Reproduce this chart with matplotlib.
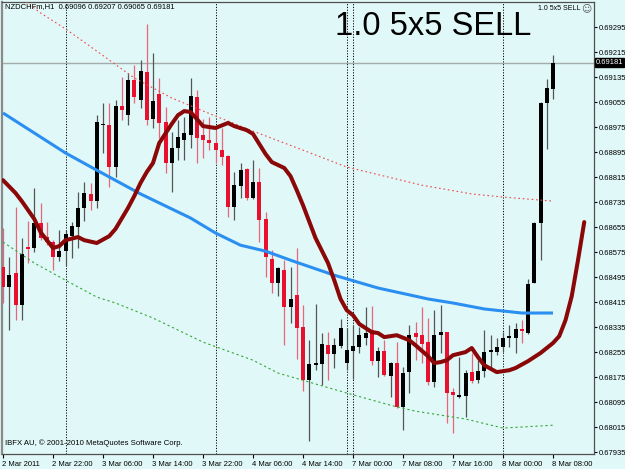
import numpy as np
import matplotlib.pyplot as plt
from matplotlib.transforms import offset_copy

plt.rcParams['font.family'] = ['Liberation Sans', 'DejaVu Sans']

symbol = 'NZDCHFm,H1'
signal_text = '1.0 5x5 SELL'
copyright_text = 'IBFX AU, \u00a9 2001-2010 MetaQuotes Software Corp.'

# hourly candles, 2 Mar 14:00 .. 8 Mar 08:00
opens = [0.68527, 0.68463, 0.68507, 0.68405, 0.68591, 0.68587, 0.68667, 0.68623, 0.68607, 0.68559,
         0.68578, 0.68626, 0.68655, 0.68715, 0.68760, 0.68738, 0.68981, 0.68981, 0.68847, 0.69042,
         0.69013, 0.69125, 0.69061, 0.69151, 0.69000, 0.69080, 0.68991, 0.68859, 0.68907, 0.68933,
         0.68949, 0.69071, 0.68949, 0.68933, 0.68923, 0.68901, 0.68882, 0.68719, 0.68786, 0.68840,
         0.68747, 0.68799, 0.68680, 0.68552, 0.68475, 0.68517, 0.68399, 0.68437, 0.68335, 0.68165,
         0.68213, 0.68216, 0.68277, 0.68248, 0.68274, 0.68219, 0.68258, 0.68271, 0.68299, 0.68325,
         0.68226, 0.68258, 0.68178, 0.68219, 0.68079, 0.68191, 0.68315, 0.68309, 0.68287, 0.68159,
         0.68309, 0.68319, 0.68127, 0.68111, 0.68114, 0.68191, 0.68165, 0.68194, 0.68255, 0.68255,
         0.68271, 0.68299, 0.68299, 0.68328, 0.68315, 0.68475, 0.68667, 0.69051, 0.69096]
highs = [0.68651, 0.68559, 0.68719, 0.68619, 0.68674, 0.68779, 0.68731, 0.68671, 0.68613, 0.68645,
         0.68645, 0.68671, 0.68767, 0.68799, 0.68795, 0.69013, 0.69051, 0.69051, 0.69061, 0.69135,
         0.69147, 0.69173, 0.69189, 0.69304, 0.69211, 0.69131, 0.69039, 0.68959, 0.68997, 0.69007,
         0.69131, 0.69093, 0.69000, 0.69007, 0.68965, 0.68971, 0.68885, 0.68831, 0.68859, 0.68843,
         0.68869, 0.68843, 0.68703, 0.68581, 0.68527, 0.68549, 0.68527, 0.68587, 0.68405, 0.68293,
         0.68408, 0.68315, 0.68319, 0.68299, 0.68360, 0.68331, 0.68341, 0.68335, 0.68399, 0.68402,
         0.68271, 0.68293, 0.68223, 0.68287, 0.68207, 0.68341, 0.68351, 0.68399, 0.68363, 0.68389,
         0.68405, 0.68319, 0.68139, 0.68239, 0.68197, 0.68251, 0.68229, 0.68325, 0.68309, 0.68299,
         0.68319, 0.68341, 0.68347, 0.68357, 0.68488, 0.68671, 0.69055, 0.69128, 0.69207]
lows = [0.68411, 0.68325, 0.68357, 0.68357, 0.68539, 0.68575, 0.68613, 0.68597, 0.68517, 0.68546,
        0.68530, 0.68555, 0.68587, 0.68674, 0.68709, 0.68715, 0.68891, 0.68783, 0.68815, 0.68997,
        0.68981, 0.69051, 0.69035, 0.68981, 0.68971, 0.68939, 0.68827, 0.68767, 0.68869, 0.68869,
        0.68907, 0.68859, 0.68875, 0.68901, 0.68859, 0.68853, 0.68687, 0.68677, 0.68747, 0.68741,
        0.68744, 0.68607, 0.68495, 0.68443, 0.68434, 0.68277, 0.68347, 0.68232, 0.68130, 0.67970,
        0.68197, 0.68149, 0.68165, 0.68203, 0.68267, 0.68197, 0.68168, 0.68251, 0.68277, 0.68213,
        0.68175, 0.68178, 0.68111, 0.68075, 0.68005, 0.68123, 0.68229, 0.68219, 0.68149, 0.68143,
        0.68251, 0.68027, 0.67995, 0.68107, 0.68047, 0.68155, 0.68155, 0.68175, 0.68197, 0.68245,
        0.68255, 0.68271, 0.68251, 0.68283, 0.68312, 0.68475, 0.68549, 0.68904, 0.69065]
closes = [0.68463, 0.68501, 0.68405, 0.68568, 0.68584, 0.68667, 0.68619, 0.68607, 0.68559, 0.68578,
          0.68632, 0.68658, 0.68715, 0.68763, 0.68738, 0.68991, 0.68984, 0.68847, 0.69042, 0.69029,
          0.69125, 0.69071, 0.69154, 0.68997, 0.69058, 0.68987, 0.68859, 0.68907, 0.68943, 0.68955,
          0.69074, 0.68939, 0.68933, 0.68923, 0.68901, 0.68879, 0.68719, 0.68789, 0.68837, 0.68747,
          0.68799, 0.68677, 0.68559, 0.68475, 0.68523, 0.68399, 0.68424, 0.68331, 0.68165, 0.68216,
          0.68219, 0.68280, 0.68248, 0.68277, 0.68331, 0.68261, 0.68274, 0.68309, 0.68315, 0.68226,
          0.68258, 0.68181, 0.68219, 0.68079, 0.68187, 0.68309, 0.68303, 0.68280, 0.68159, 0.68309,
          0.68319, 0.68123, 0.68117, 0.68117, 0.68187, 0.68162, 0.68194, 0.68255, 0.68261, 0.68271,
          0.68299, 0.68306, 0.68328, 0.68322, 0.68472, 0.68667, 0.69051, 0.69099, 0.69181]

# slow moving average (blue)
ma_x = [0, 5, 10, 15, 22, 30, 34, 38, 42, 46, 53, 60, 68, 72, 77, 83, 88]
ma_vals = [0.69020, 0.68956, 0.68892, 0.68837, 0.68761, 0.68684, 0.68636, 0.68597, 0.68578,
           0.68549, 0.68501, 0.68460, 0.68425, 0.68412, 0.68393, 0.68380, 0.68380]

# displaced 5x5 average (dark red), shifted 5 bars forward
dma_x = [0, 2, 3, 5, 6, 8, 9, 10, 12, 13, 15, 17, 18, 20, 21, 22, 23, 24, 25, 27, 28, 29, 30,
         31, 32, 33, 34, 36, 37, 39, 40, 42, 43, 45, 46, 47, 48, 50, 52, 53, 54, 55, 56, 57, 59,
         60, 61, 63, 65, 66, 68, 69, 70, 71, 72, 74, 75, 76, 77, 79, 81, 82, 84, 86, 88, 89, 90,
         91, 92, 93]
dma_vals = [0.68805, 0.68764, 0.68738, 0.68681, 0.68639, 0.68588, 0.68594, 0.68613, 0.68623,
            0.68613, 0.68604, 0.68626, 0.68649, 0.68716, 0.68754, 0.68796, 0.68831, 0.68860,
            0.68924, 0.68985, 0.69013, 0.69026, 0.69023, 0.69001, 0.68978, 0.68975, 0.68972,
            0.68988, 0.68978, 0.68965, 0.68953, 0.68889, 0.68863, 0.68844, 0.68818, 0.68773,
            0.68725, 0.68620, 0.68540, 0.68485, 0.68425, 0.68389, 0.68373, 0.68345, 0.68319,
            0.68316, 0.68303, 0.68309, 0.68293, 0.68277, 0.68242, 0.68220, 0.68223, 0.68229,
            0.68245, 0.68255, 0.68268, 0.68239, 0.68213, 0.68191, 0.68197, 0.68204, 0.68226,
            0.68252, 0.68284, 0.68306, 0.68357, 0.68434, 0.68549, 0.68671]

# envelope bands
env_up_x = [0, 6, 10, 15, 21, 27, 34, 40, 48, 55, 67, 75, 80, 88]
env_up = [0.69433, 0.69340, 0.69289, 0.69218, 0.69132, 0.69068, 0.69010, 0.68962, 0.68901,
          0.68847, 0.68789, 0.68761, 0.68751, 0.68738]
env_dn_x = [0, 5, 10, 15, 18, 24, 32, 40, 44, 55, 62, 66, 74, 80, 88]
env_dn = [0.68607, 0.68540, 0.68485, 0.68431, 0.68412, 0.68364, 0.68287, 0.68229, 0.68188,
          0.68124, 0.68085, 0.68066, 0.68041, 0.68012, 0.68021]

separators = [10, 34, 55, 56, 80]
time_ticks = [0, 8, 16, 24, 32, 40, 48, 56, 64, 72, 80, 88]
time_labels = ['2 Mar 2011', '2 Mar 22:00', '3 Mar 06:00', '3 Mar 14:00', '3 Mar 22:00',
               '4 Mar 06:00', '4 Mar 14:00', '7 Mar 00:00', '7 Mar 08:00', '7 Mar 16:00',
               '8 Mar 00:00', '8 Mar 08:00']
price_ticks = [0.67935, 0.68015, 0.68095, 0.68175, 0.68255, 0.68335, 0.68415, 0.68495, 0.68575,
               0.68655, 0.68735, 0.68815, 0.68895, 0.68975, 0.69055, 0.69135, 0.69215, 0.69295]

bg = '#e1f8f8'
bull_body, bull_wick = 'black', '#555555'
bear_body, bear_wick = '#e8102e', '#e8667a'

o = np.array(opens)
h = np.array(highs)
l = np.array(lows)
c = np.array(closes)
x = np.arange(len(o))
up = c >= o

fig = plt.figure(figsize=(6.25, 4.69), dpi=100, facecolor=bg)
ax = fig.add_axes([2 / 625, 15 / 469, 592 / 625, 452 / 469])
ax.set_facecolor(bg)

for s in separators:
    ax.axvline(s, color='black', lw=0.7, ls=(0, (1.2, 1.6)), zorder=1)
ax.axhline(c[-1], color='#a3abab', lw=1, zorder=1)

ax.vlines(x[up], l[up], h[up], color=bull_wick, lw=0.9, zorder=2)
ax.vlines(x[~up], l[~up], h[~up], color=bear_wick, lw=0.9, zorder=2)
body_h = np.maximum(np.abs(c - o), 0.00003)
body_b = np.minimum(o, c)
ax.bar(x[up], body_h[up], bottom=body_b[up], width=0.64, color=bull_body, lw=0, zorder=3)
ax.bar(x[~up], body_h[~up], bottom=body_b[~up], width=0.64, color=bear_body, lw=0, zorder=3)

ax.plot(env_up_x, env_up, color='#f04848', lw=0.8, ls=(0, (1.5, 2.5)), zorder=4)
ax.plot(env_dn_x, env_dn, color='#33a833', lw=0.8, ls=(0, (2, 2.5)), zorder=4)
ax.plot(ma_x, ma_vals, color='#2a8ff0', lw=2.2, solid_capstyle='butt', zorder=5)
ax.plot(dma_x, dma_vals, color='#8a0808', lw=2.9, solid_capstyle='round', zorder=6)

ax.set_xlim(-0.16, 94.56)
ax.set_ylim(0.67929, 0.69375)

ax.set_xticks(time_ticks)
ax.set_xticklabels(time_labels, ha='left', fontsize=5.5)
ax.yaxis.tick_right()
ax.set_yticks(price_ticks)
ax.set_yticklabels([f'{p:.5f}' for p in price_ticks], fontsize=5.5)
ax.tick_params(axis='x', direction='out', length=3, width=0.8, pad=2, colors='black')
ax.tick_params(axis='y', direction='out', length=2, width=0.8, pad=1.5, colors='black')
for lab in ax.get_xticklabels():
    lab.set_transform(offset_copy(lab.get_transform(), fig=fig, x=-1, units='dots'))

for side in ['top', 'right', 'bottom']:
    ax.spines[side].set_color('#505050')
    ax.spines[side].set_linewidth(0.9)
ax.spines['left'].set_color('#8a8a8a')
ax.spines['left'].set_linewidth(1.6)

ax.text(1.003, c[-1], f'{c[-1]:.5f}', transform=ax.get_yaxis_transform(), ha='left',
        va='center', fontsize=5.5, color='white', zorder=10,
        bbox=dict(facecolor='black', edgecolor='black', pad=0.6))

header = f'{symbol}  {o[-1]:.5f} {h[-1]:.5f} {l[-1]:.5f} {c[-1]:.5f}'
fig.text(5 / 625, 1 - 7 / 469, header, fontsize=5.5, va='center', ha='left')
fig.text(335 / 625, 1 - 35 / 469, signal_text, fontsize=23.5, va='baseline', ha='left')
fig.text(580 / 625, 1 - 8 / 469, signal_text, fontsize=5, va='center', ha='right')
fig.text(586 / 625, 1 - 8 / 469, '\u263a', fontsize=7, va='center', ha='center',
         family='DejaVu Sans', color='#555555')
fig.text(5 / 625, 1 - 443 / 469, copyright_text, fontsize=5.6, va='center', ha='left')

fig.savefig('out.png', dpi=100, facecolor=bg)
